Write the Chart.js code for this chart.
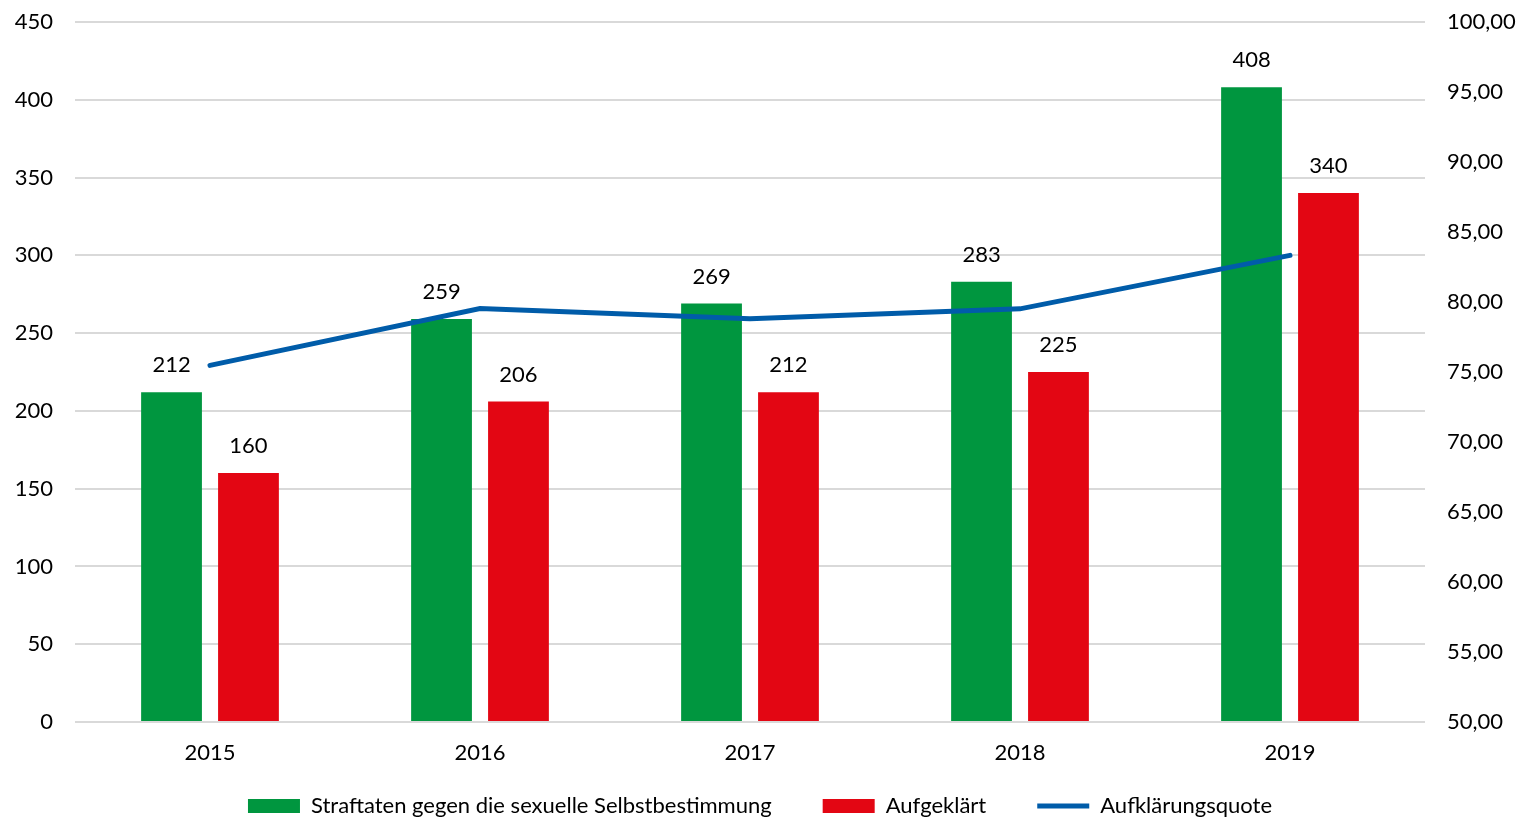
<!DOCTYPE html>
<html>
<head>
<meta charset="utf-8">
<script src="https://cdn.jsdelivr.net/npm/chart.js@4/dist/chart.umd.min.js"></script>
<style>
  html, body { margin: 0; padding: 0; background: #fff; overflow: hidden; }
  canvas { display: block; }
</style>
</head>
<body>
<canvas id="chart" width="1520" height="821"></canvas>
<script>
const years = ['2015', '2016', '2017', '2018', '2019']
const straftaten = [212, 259, 269, 283, 408]
const aufgeklaert = [160, 206, 212, 225, 340]
const quote = [75.47, 79.54, 78.81, 79.51, 83.33]
const leftTicks = [0, 50, 100, 150, 200, 250, 300, 350, 400, 450]
const rightTicks = [50, 55, 60, 65, 70, 75, 80, 85, 90, 95, 100]

const font = 'Lato'
const fontSize = 22

// values over the bars
const barLabels = {
    id: 'barLabels',
    afterDatasetsDraw(chart) {
        const ctx = chart.ctx
        ctx.save()
        ctx.font = fontSize + 'px ' + font
        ctx.fillStyle = '#000'
        ctx.textAlign = 'center'
        ctx.textBaseline = 'middle'
        chart.data.datasets.forEach(function (ds, i) {
            if (ds.type !== 'bar') return
            chart.getDatasetMeta(i).data.forEach(function (bar, j) {
                ctx.fillText(ds.data[j], bar.x, bar.y - 27)
            })
        })
        ctx.restore()
    }
}

// y axes: fixed width, no extra padding above/below the plot
function fitY(width) {
    return function (axis) {
        axis.width = width
        axis.paddingTop = 0
        axis.paddingBottom = 0
    }
}

new Chart(document.getElementById('chart'), {
    data: {
        labels: years,
        datasets: [{
            type: 'bar',
            label: 'Straftaten gegen die sexuelle Selbstbestimmung',
            data: straftaten,
            backgroundColor: '#00963f',
            yAxisID: 'y',
            pointStyle: 'rect',
            barPercentage: 0.79,
            categoryPercentage: 0.57,
            order: 1
        }, {
            type: 'bar',
            label: 'Aufgeklärt',
            data: aufgeklaert,
            backgroundColor: '#e30613',
            yAxisID: 'y',
            pointStyle: 'rect',
            barPercentage: 0.79,
            categoryPercentage: 0.57,
            order: 1
        }, {
            type: 'line',
            label: 'Aufklärungsquote',
            data: quote,
            borderColor: '#005ca9',
            backgroundColor: '#005ca9',
            borderWidth: 5,
            borderCapStyle: 'round',
            pointRadius: 0,
            pointStyle: 'line',
            tension: 0,
            yAxisID: 'y1',
            order: 0
        }]
    },
    options: {
        responsive: false,
        animation: false,
        layout: { padding: { top: 22, left: 0, right: 0, bottom: -6 } },
        plugins: {
            tooltip: { enabled: false },
            legend: {
                position: 'bottom',
                labels: {
                    usePointStyle: true,
                    pointStyleWidth: 52,
                    boxHeight: 14,
                    padding: 29,
                    color: '#000',
                    font: { family: font, size: fontSize },
                    sort: function (a, b) { return a.datasetIndex - b.datasetIndex },
                    generateLabels: function (chart) {
                        const items = Chart.defaults.plugins.legend.labels.generateLabels(chart)
                        items.forEach(function (it) {
                            // wider gap after the bar entries
                            if (it.datasetIndex < 2) it.text += '\u2002\u2002'
                        })
                        return items
                    }
                }
            }
        },
        scales: {
            x: {
                afterFit: function (axis) { axis.height = 44; axis.paddingLeft = 0; axis.paddingRight = 0 },
                grid: { display: false, drawTicks: false },
                border: { display: false },
                ticks: { color: '#000', font: { family: font, size: fontSize }, padding: 18, maxRotation: 0 }
            },
            y: {
                position: 'left',
                min: 0,
                max: 450,
                afterBuildTicks: function (axis) { axis.ticks = leftTicks.map(v => ({ value: v })) },
                afterFit: fitY(75),
                grid: { color: '#d9d9d9', lineWidth: 2, drawTicks: false },
                border: { display: false },
                ticks: { color: '#000', font: { family: font, size: fontSize }, padding: 22 }
            },
            y1: {
                position: 'right',
                min: 50,
                max: 100,
                afterBuildTicks: function (axis) { axis.ticks = rightTicks.map(v => ({ value: v })) },
                afterFit: fitY(95),
                grid: { display: false, drawTicks: false },
                border: { display: false },
                ticks: {
                    color: '#000',
                    font: { family: font, size: fontSize },
                    padding: 22,
                    callback: function (v) { return v.toFixed(2).replace('.', ',') }
                }
            }
        }
    },
    plugins: [barLabels]
})
</script>
</body>
</html>
